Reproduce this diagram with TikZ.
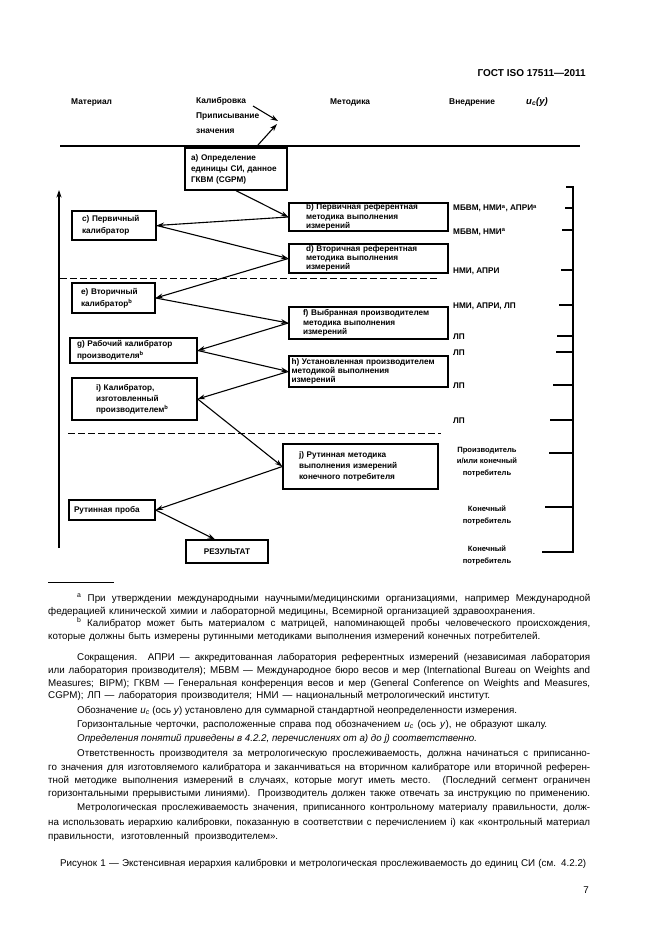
\documentclass[tikz,border=0pt]{standalone}
\usepackage{fontspec}
\usepackage{graphicx}
\setmainfont{Liberation Sans}
\usetikzlibrary{arrows.meta}
\newlength\fitw
\newcommand{\fitline}[2]{\setlength\fitw{#1}\sbox0{#2}%
  \ifdim\wd0>\fitw\pgfmathsetmacro\fitf{\the\fitw/\the\wd0}\scalebox{\fitf}[1]{\usebox0}%
  \else\makebox[\fitw][s]{#2}\fi}
\begin{document}
\begin{tikzpicture}[x=1pt,y=-1pt,
  box/.style={draw, line width=1.3pt, inner ysep=0pt, align=left,
     font=\fontsize{8.2}{9.2}\selectfont\bfseries},
  arr/.style={line width=1.1pt, -{Stealth[length=7.5pt,width=5pt]}},
  lbl/.style={font=\fontsize{8.2}{9}\selectfont\bfseries, inner sep=0pt, anchor=base west},
  clbl/.style={font=\fontsize{7.6}{11.5}\selectfont\bfseries, inner sep=0pt, align=center, anchor=north},
  hdr/.style={font=\fontsize{8.4}{9}\selectfont\bfseries, inner sep=0pt, anchor=base west},
  body/.style={font=\fontsize{9.8}{11}\selectfont, inner sep=0pt, anchor=base west},
  dashln/.style={line width=1pt, dash pattern=on 7pt off 3pt},
  axis/.style={line width=1.6pt},
  tickln/.style={line width=1.3pt}]
\useasboundingbox (0,0) rectangle (661,936);
\fill[white] (0,0) rectangle (661,936);

% page header
\node[font=\fontsize{10}{11}\selectfont\bfseries, inner sep=0pt, anchor=base east] (gost) at (586,77) {ГОСТ ISO 17511—2011};

% column headers
\node[hdr] (hmat) at (71,105) {Материал};
\node[hdr] (hkal) at (196,104) {Калибровка};
\node[hdr] (hpri) at (196,119) {Приписывание};
\node[hdr] (hzna) at (196,134) {значения};
\node[hdr] (hmet) at (330,105) {Методика};
\node[hdr] (hvne) at (449,105) {Внедрение};
\node[font=\fontsize{9.5}{10}\selectfont\bfseries\itshape, inner sep=0pt, anchor=base west] (huc) at (526,105) {u\textsubscript{c}(y)};
\coordinate (ch1) at (253,106);
\coordinate (ch2) at (278,121);
\coordinate (ch3) at (258,145);
\coordinate (ch4) at (277,124);
\draw[arr] (ch1) -- (ch2);
\draw[arr] (ch3) -- (ch4);
\coordinate (tl1) at (60,146);
\coordinate (tl2) at (580,146);
\draw[line width=1.2pt] (tl1) -- (tl2);

% boxes
\node[box, minimum width=102pt, minimum height=42pt, inner xsep=6pt, text width=90pt, font=\fontsize{8.2}{11}\selectfont\bfseries] (a) at (236,169) {a) Определение\\единицы СИ, данное\\ГКВМ (CGPM)};
\node[box, minimum width=159pt, minimum height=28pt, inner xsep=17pt, text width=125pt] (b) at (368.5,217) {b) Первичная референтная\\методика выполнения\\измерений};
\node[box, minimum width=84pt, minimum height=29pt, inner xsep=10pt, text width=64pt, font=\fontsize{8.2}{12}\selectfont\bfseries] (c) at (114,225.5) {c) Первичный\\калибратор};
\node[box, minimum width=159pt, minimum height=29pt, inner xsep=17pt, text width=125pt] (d) at (368.5,258.5) {d) Вторичная референтная\\методика выполнения\\измерений};
\node[box, minimum width=83pt, minimum height=30pt, inner xsep=9pt, text width=65pt, font=\fontsize{8.2}{12}\selectfont\bfseries] (e) at (113.5,298) {e) Вторичный\\калибратор\textsuperscript{b}};
\node[box, minimum width=159pt, minimum height=32pt, inner xsep=11pt, text width=137pt] (f) at (368.5,323) {\hspace*{3pt}f) Выбранная производителем\\\hspace*{3pt}методика выполнения\\\hspace*{3pt}измерений};
\node[box, minimum width=127pt, minimum height=25pt, inner xsep=7pt, text width=113pt, font=\fontsize{8.2}{12}\selectfont\bfseries] (g) at (133.5,350.5) {g) Рабочий калибратор\\производителя\textsuperscript{b}};
\node[box, minimum width=159pt, minimum height=31pt, inner xsep=2.5pt, text width=154pt] (h) at (368.5,371.5) {h) Установленная производителем\\методикой выполнения\\измерений};
\node[box, minimum width=125pt, minimum height=42pt, inner xsep=24pt, text width=77pt, font=\fontsize{8.2}{11}\selectfont\bfseries] (i) at (134.5,399) {i) Калибратор,\\изготовленный\\производителем\textsuperscript{b}};
\node[box, minimum width=155pt, minimum height=45pt, inner xsep=16pt, text width=123pt, font=\fontsize{8.2}{11}\selectfont\bfseries] (j) at (360.5,466.5) {j) Рутинная методика\\выполнения измерений\\конечного потребителя};
\node[box, minimum width=86pt, minimum height=20pt, inner xsep=5pt, text width=76pt] (r) at (112,510) {Рутинная проба};
\node[box, minimum width=82pt, minimum height=23pt, inner xsep=4pt, text width=74pt, align=center] (res) at (227,551.5) {РЕЗУЛЬТАТ};

% connectors
\draw[arr] (a.south) -- (b.west);
\draw[arr] (b.west) -- (c.east);
\draw[arr] (c.east) -- (d.west);
\draw[arr] (d.west) -- (e.east);
\draw[arr] (e.east) -- (f.west);
\draw[arr] (f.west) -- (g.east);
\draw[arr] (g.east) -- (h.west);
\draw[arr] (h.west) -- (i.east);
\draw[arr] (i.east) -- (j.west);
\draw[arr] (j.west) -- (r.east);
\draw[arr] (r.east) -- ([xshift=-12pt]res.north);

% left vertical arrow
\coordinate (vb) at (59,548);
\coordinate (vt) at (59,190);
\draw[arr] (vb) -- (vt);

% dashed lines
\coordinate (d1a) at (60,278); \coordinate (d1b) at (437,278);
\draw[dashln] (d1a) -- (d1b);
\coordinate (d2a) at (68,433); \coordinate (d2b) at (441,433);
\draw[dashln] (d2a) -- (d2b);

% axis u_c(y)
\coordinate (ax0) at (566,187);
\coordinate (ax1) at (573,187);
\coordinate (ax2) at (573,552);
\coordinate (ax3) at (542,552);
\draw[axis] (ax0) -- (ax1) -- (ax2) -- (ax3);
\foreach \yy/\xx in {208/565,230/562,270/561,305/559,336/557,352/556,385/553,420/550,453/549,507/545}
  \draw[tickln] (\xx,\yy) -- (573,\yy);

% right labels
\node[lbl] (l1) at (453,211) {МБВМ, НМИ\textsuperscript{a}, АПРИ\textsuperscript{a}};
\node[lbl] (l2) at (453,234) {МБВМ, НМИ\textsuperscript{a}};
\node[lbl] (l3) at (453,273) {НМИ, АПРИ};
\node[lbl] (l4) at (453,308) {НМИ, АПРИ, ЛП};
\node[lbl] (l5) at (453,339) {ЛП};
\node[lbl] (l6) at (453,355) {ЛП};
\node[lbl] (l7) at (453,388) {ЛП};
\node[lbl] (l8) at (453,423) {ЛП};
\node[clbl] (l9) at (487,447) {Производитель\\и/или конечный\\потребитель};
\node[clbl] (l10) at (487,506) {Конечный\\потребитель};
\node[clbl] (l11) at (487,546) {Конечный\\потребитель};

% footnotes
\coordinate (fr1) at (48,582); \coordinate (fr2) at (114,582);
\draw[line width=0.6pt] (fr1) -- (fr2);
\node[body] (fa1) at (77,601) {\fitline{513pt}{\textsuperscript{a} При утверждении международными научными/медицинскими организациями, например Международной}};
\node[body] (fa2) at (48,614) {\fitline{487pt}{федерацией клинической химии и лабораторной медицины, Всемирной организацией здравоохранения.}};
\node[body] (fb1) at (77,626) {\fitline{513pt}{\textsuperscript{b} Калибратор может быть материалом с матрицей, напоминающей пробы человеческого происхождения,}};
\node[body] (fb2) at (48,639) {\fitline{492pt}{которые должны быть измерены рутинными методиками выполнения измерений конечных потребителей.}};

\node[body] (s1) at (77,660) {\fitline{513pt}{Сокращения. АПРИ — аккредитованная лаборатория референтных измерений (независимая лаборатория}};
\node[body] (s2) at (48,673) {\fitline{542pt}{или лаборатория производителя); МБВМ — Международное бюро весов и мер (International Bureau on Weights and}};
\node[body] (s3) at (48,686) {\fitline{542pt}{Measures; BIPM); ГКВМ — Генеральная конференция весов и мер (General Conference on Weights and Measures,}};
\node[body] (s4) at (48,698) {\fitline{442pt}{CGPM); ЛП — лаборатория производителя; НМИ — национальный метрологический институт.}};
\node[body] (o1) at (77,713) {\fitline{440pt}{Обозначение \textit{u}\textsubscript{\textit{c}} (ось \textit{y}) установлено для суммарной стандартной неопределенности измерения.}};
\node[body] (o2) at (77,727) {\fitline{470pt}{Горизонтальные черточки, расположенные справа под обозначением \textit{u}\textsubscript{\textit{c}} (ось \textit{y}), не образуют шкалу.}};
\node[body, font=\fontsize{9.8}{11}\selectfont\itshape] (o3) at (77,741) {\fitline{400pt}{Определения понятий приведены в 4.2.2, перечислениях от a) до j) соответственно.}};
\node[body] (r1) at (77,756) {\fitline{513pt}{Ответственность производителя за метрологическую прослеживаемость, должна начинаться с приписанно-}};
\node[body] (r2) at (48,770) {\fitline{542pt}{го значения для изготовляемого калибратора и заканчиваться на вторичном калибраторе или вторичной референ-}};
\node[body] (r3) at (48,783) {\fitline{542pt}{тной методике выполнения измерений в случаях, которые могут иметь место. (Последний сегмент ограничен}};
\node[body] (r4) at (48,796) {\fitline{542pt}{горизонтальными прерывистыми линиями). Производитель должен также отвечать за инструкцию по применению.}};
\node[body] (m1) at (77,810) {\fitline{513pt}{Метрологическая прослеживаемость значения, приписанного контрольному материалу правильности, долж-}};
\node[body] (m2) at (48,825) {\fitline{542pt}{на использовать иерархию калибровки, показанную в соответствии с перечислением i) как «контрольный материал}};
\node[body] (m3) at (48,839) {\fitline{230pt}{правильности, изготовленный производителем».}};
\node[body] (cap) at (60,866) {\fitline{526pt}{Рисунок 1 — Экстенсивная иерархия калибровки и метрологическая прослеживаемость до единиц СИ (см. 4.2.2)}};
\node[body, anchor=base east] (pg) at (589,893) {7};
\end{tikzpicture}
\end{document}
